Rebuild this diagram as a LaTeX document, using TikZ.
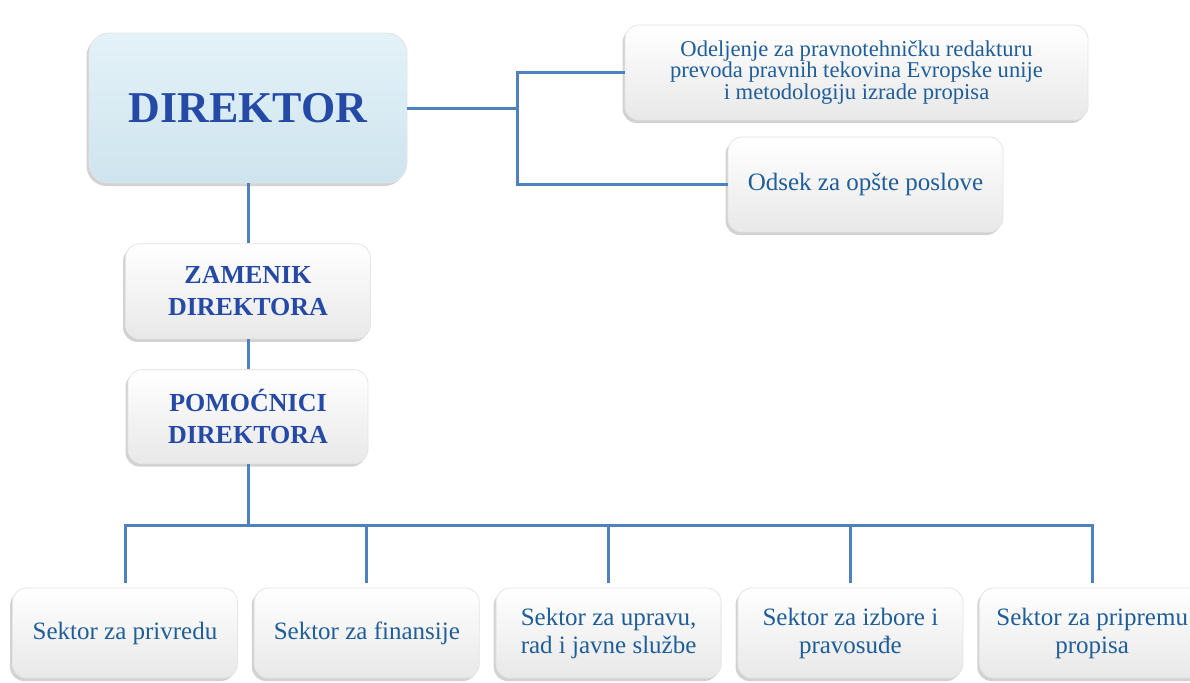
\documentclass[tikz,border=0pt]{standalone}
\usepackage{fontspec}
\setmainfont{Liberation Serif}
\usetikzlibrary{positioning,shadows}

\definecolor{linkblue}{RGB}{79,129,189}
\definecolor{textblue}{RGB}{31,94,152}
\definecolor{headblue}{RGB}{36,74,165}
\definecolor{dirtop}{RGB}{228,242,248}
\definecolor{dirbottom}{RGB}{206,228,238}

\begin{document}
\begin{tikzpicture}[x=0.5pt,y=-0.5pt,node distance=8pt]
  \tikzstyle{box}=[rectangle,rounded corners=7pt,top color=white,bottom color=gray!18,
                   draw=gray!20,text=textblue,align=center,inner sep=2pt,
                   drop shadow={shadow xshift=-1.2pt,shadow yshift=-1.5pt,opacity=0.35}]
  \tikzstyle{head}=[box,text=headblue,font=\fontsize{13}{16}\selectfont\bfseries]
  \tikzstyle{sektor}=[box,minimum width=112.5pt,minimum height=45pt,
                      font=\fontsize{12.5}{14}\selectfont]
  \tikzstyle{link}=[draw=linkblue,line width=1.5pt]

  \clip (0,0) rectangle (1190,682);
  \fill[white] (0,0) rectangle (1190,682);

  % top column
  \node[box,top color=dirtop,bottom color=dirbottom,text=headblue,rounded corners=10pt,
        minimum width=159pt,minimum height=75pt,
        font=\fontsize{22}{26}\selectfont\bfseries] (dir) at (248,108) {DIREKTOR};
  \node[head,minimum width=122.5pt,minimum height=47.5pt] (zam) [below=30pt of dir]
  {ZAMENIK\\DIREKTORA};
  \node[head,minimum width=120pt,minimum height=47pt]     (pom) [below=15pt of zam]
  {POMOĆNICI\\DIREKTORA};

  % right of the director
  \node[box,minimum width=231.5pt,minimum height=47.5pt,
        font=\fontsize{11.3}{10.6}\selectfont] (odj) at (856.5,72.5)
  {Odeljenje za pravnotehničku redakturu\\prevoda pravnih tekovina Evropske unije\\i metodologiju izrade propisa};
  \node[box,minimum width=137.5pt,minimum height=47.5pt,
        font=\fontsize{12.5}{15}\selectfont] (ods) at (865.5,184.5) {Odsek za opšte poslove};

  % sectors
  \node[sektor]               (priv) at (125,633) {Sektor za privredu};
  \node[sektor,right=of priv] (fin)  {Sektor za finansije};
  \node[sektor,right=of fin]  (upr)  {Sektor za upravu,\\rad i javne službe};
  \node[sektor,right=of upr]  (izb)  {Sektor za izbore i\\pravosuđe};
  \node[sektor,right=of izb]  (prop) {Sektor za pripremu\\propisa};

  \coordinate (fork) at (517,111);
  \coordinate (bus)  at (248,525);

  \draw[link] (dir.east) -- (dir.east -| fork);
  \draw[link] (odj.west) -| (fork |- ods.west) -- (ods.west);
  \draw[link] (dir.south) -- (zam.north);
  \draw[link] (zam.south) -- (pom.north);
  \draw[link] (pom.south) -- (pom.south |- bus);
  \draw[link] ([yshift=2.5pt]priv.north) |- (bus) -| ([yshift=2.5pt]prop.north);
  \foreach \s in {fin,upr,izb}
    \draw[link,shorten <=2.5pt] (\s.north) -- (\s.north |- bus);
\end{tikzpicture}
\end{document}
